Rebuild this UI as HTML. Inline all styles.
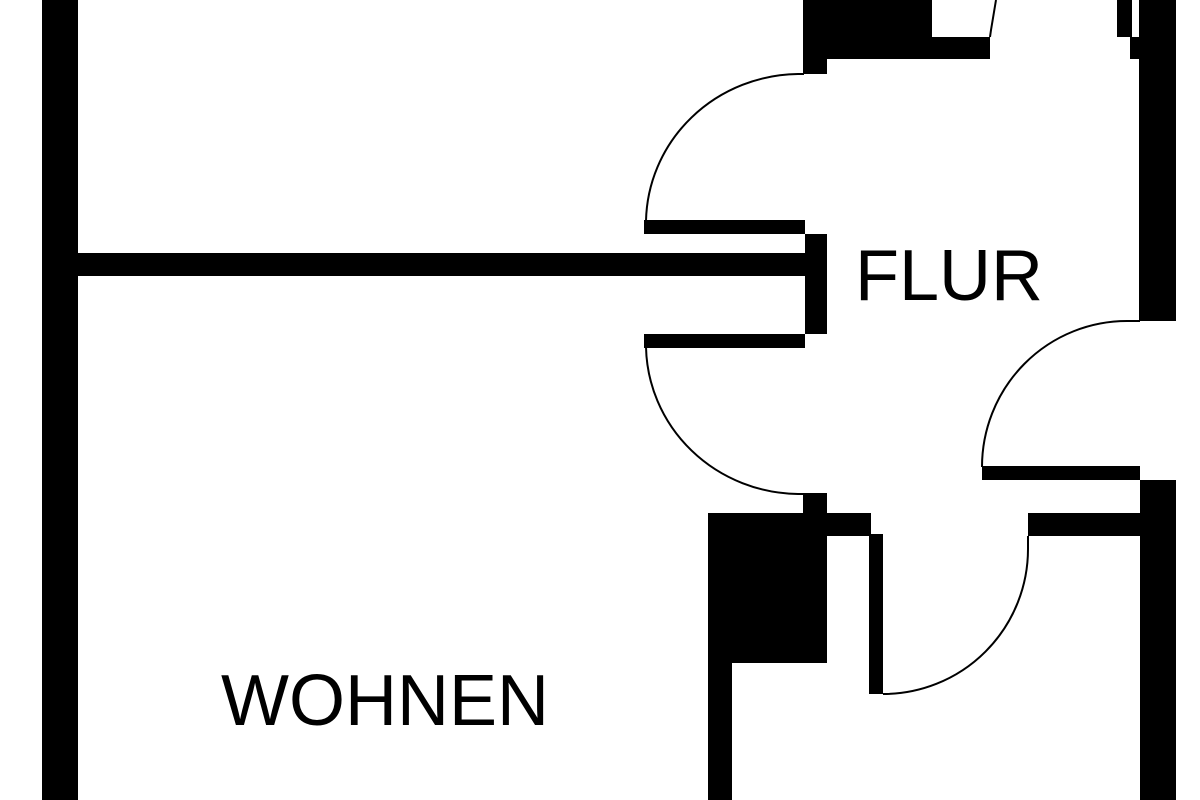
<!DOCTYPE html>
<html>
<head>
<meta charset="utf-8">
<style>
  html, body { margin: 0; padding: 0; background: #fff; }
  body { width: 1200px; height: 800px; overflow: hidden; }
  svg { display: block; }
  text { font-family: "Liberation Sans", Arial, sans-serif; font-size: 72px; fill: #000; }
</style>
</head>
<body>
<svg width="1200" height="800" viewBox="0 0 1200 800" xmlns="http://www.w3.org/2000/svg">
  <rect x="0" y="0" width="1200" height="800" fill="#fff"/>
  <g fill="#000">
    <!-- left outer wall -->
    <rect x="42" y="0" width="36" height="800"/>
    <!-- horizontal interior wall -->
    <rect x="78" y="253" width="727" height="23"/>
    <!-- door panels / T block -->
    <rect x="644" y="220" width="161" height="14"/>
    <rect x="805" y="234" width="22" height="100"/>
    <rect x="644" y="334" width="161" height="14"/>
    <!-- top block -->
    <rect x="803" y="0" width="129" height="37"/>
    <rect x="803" y="37" width="187" height="22"/>
    <rect x="803" y="59" width="24" height="15"/>
    <!-- top right -->
    <rect x="1117" y="0" width="15" height="37"/>
    <rect x="1130" y="37" width="46" height="22"/>
    <rect x="1139" y="0" width="37" height="321"/>
    <!-- right door bar -->
    <rect x="982" y="466" width="158" height="14"/>
    <!-- right wall lower -->
    <rect x="1140" y="480" width="36" height="320"/>
    <!-- horizontal bar lower right -->
    <rect x="1028" y="513" width="112" height="23"/>
    <!-- small block & big block -->
    <rect x="803" y="493" width="24" height="20"/>
    <rect x="708" y="513" width="119" height="150"/>
    <rect x="827" y="513" width="44" height="23"/>
    <rect x="869" y="534" width="14" height="160"/>
    <!-- lower left wall of small room -->
    <rect x="708" y="663" width="24" height="137"/>
  </g>
  <g fill="none" stroke="#000" stroke-width="2">
    <!-- upper-left door arc -->
    <path d="M 646 221 A 154 150 0 0 1 798 74 L 804 74"/>
    <!-- lower-left door arc -->
    <path d="M 646 347 A 154 150 0 0 0 798 494 L 804 494"/>
    <!-- right door arc -->
    <path d="M 982 467 A 145 146 0 0 1 1127 321 L 1140 321"/>
    <!-- lower door arc -->
    <path d="M 1028 536 L 1028 549 A 145 145 0 0 1 883 694"/>
    <!-- small top arc remnant -->
    <path d="M 990 37 L 991 30 L 994 12 L 996 0"/>
  </g>
  <text x="855" y="300">FLUR</text>
  <text x="221" y="725">WOHNEN</text>
</svg>
</body>
</html>
